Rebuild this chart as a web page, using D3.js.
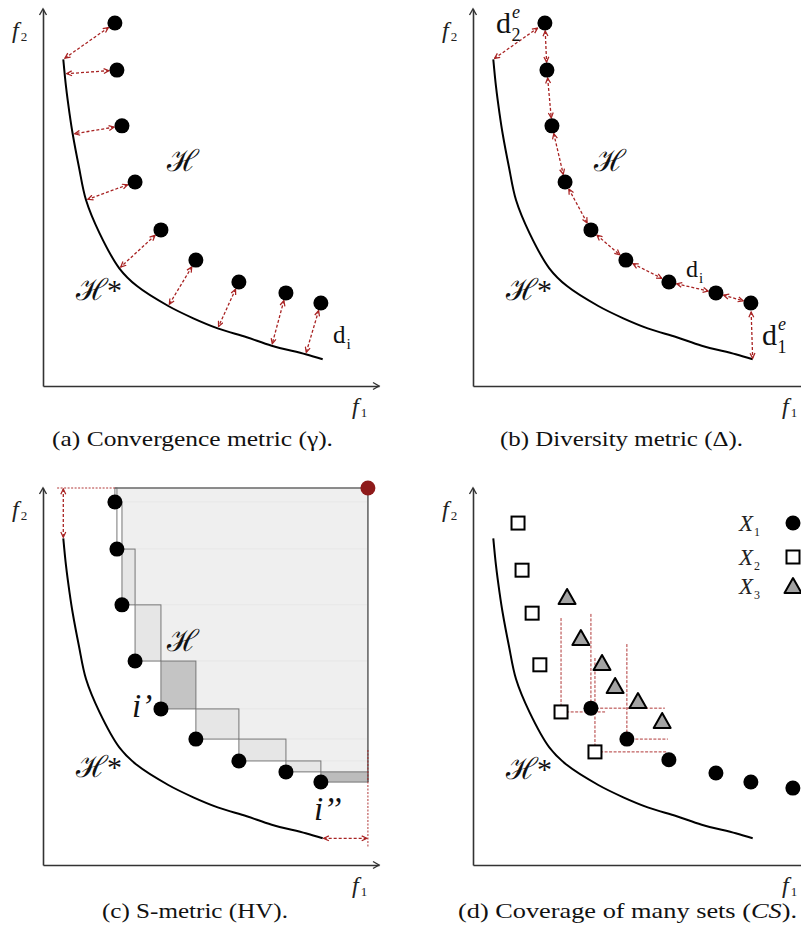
<!DOCTYPE html>
<html>
<head>
<meta charset="utf-8">
<script src="https://cdn.jsdelivr.net/npm/d3@7"></script>
<style>
  body { margin: 0; background: #fff; }
  svg { display: block; }
</style>
</head>
<body>
<svg id="fig" width="801" height="945"></svg>
<script>
// ---------- data (objective space, both axes 0..100) ----------
// true Pareto front H*
const frontF1 = [6.04, 6.85, 7.89, 8.84, 10.68, 12.8, 16.85, 22.71, 27.98, 37.29, 44.73, 52.0, 60.63, 68.07, 78.18, 83.24];
const frontF2 = [86.66, 79.39, 72.33, 66.84, 58.17, 49.34, 40.5, 31.22, 26.5, 21.22, 17.96, 15.3, 12.92, 10.69, 8.41, 7.08];

// approximation set H
const solF1 = [21.4, 22.0, 23.5, 27.4, 35.1, 45.5, 58.3, 72.3, 82.7];
const solF2 = [96.3, 83.8, 69.0, 54.1, 41.4, 33.4, 27.6, 24.7, 22.0];

// nearest front point for every solution (convergence distances d_i)
const footF1 = [6.04, 6.45, 8.84, 12.8, 22.71, 37.29, 52.0, 68.07, 78.18];
const footF2 = [86.66, 82.8, 66.84, 49.34, 31.22, 21.22, 15.3, 10.69, 8.41];

// hypervolume reference point and guide extents
const refPoint = [96.7, 100];
const guideTopF1 = [4.2];
const guideRightF2 = [30.5, 4.8];

// three sets compared by coverage
const set1F1 = [35.1, 45.8, 58.3, 72.3, 82.7, 95.2];
const set1F2 = [41.6, 33.4, 27.9, 24.4, 22.0, 20.4];
const set2F1 = [13.4, 14.6, 17.6, 19.9, 26.2, 36.3];
const set2F2 = [90.7, 78.2, 66.8, 53.1, 40.6, 30.0];
const set3F1 = [28.0, 32.1, 38.4, 42.3, 49.1, 56.3];
const set3F2 = [71.1, 60.2, 53.6, 47.5, 43.5, 38.2];

// dominated-region corners: anchor point, upper f2 bound, right f1 bound
const domF1 = [26.2, 35.1, 36.3, 45.8];
const domF2 = [40.6, 41.6, 30.0, 33.4];
const domTopF2 = [65.5, 66.6, 54.9, 58.6];
const domRightF1 = [39.3, 57.1, 57.7, 58.0];

const legendSubs = ["1", "2", "3"];
const captionTexts = [
  "(a) Convergence metric (\u03B3).",
  "(b) Diversity metric (\u0394).",
  "(c) S-metric (HV).",
  "(d) Coverage of many sets ("
];

// ---------- drawing ----------
const RED = "#a82222";
const SERIF = "'Liberation Serif', 'Times New Roman', serif";
const SCRIPT = "'DejaVu Serif', serif";
const svg = d3.select("#fig");
const defs = svg.append("defs");

defs.append("marker")
  .attr("id", "ah")
  .attr("viewBox", "0 0 10 10")
  .attr("refX", 9).attr("refY", 5)
  .attr("markerWidth", 6.5).attr("markerHeight", 6.5)
  .attr("markerUnits", "userSpaceOnUse")
  .attr("orient", "auto-start-reverse")
  .append("path")
  .attr("d", "M1,1.2 L9,5 L1,8.8")
  .attr("fill", "none")
  .attr("stroke", RED)
  .attr("stroke-width", 1.9);

const origins = [[43, 386], [473, 386], [43, 865], [473, 865]];
const panels = origins.map(([ox, oy]) => ({
  ox, oy,
  x: d3.scaleLinear().domain([0, 100]).range([ox, ox + 336]),
  y: d3.scaleLinear().domain([0, 100]).range([oy, oy - 377]),
  g: svg.append("g")
}));

const zip = (a, b) => a.map((v, i) => [v, b[i]]);
const front = zip(frontF1, frontF2);
const sols = zip(solF1, solF2);

function drawAxes(P) {
  const gx = P.g.append("g").attr("transform", `translate(0,${P.oy})`)
    .call(d3.axisBottom(P.x).tickValues([]).tickSizeOuter(0));
  const gy = P.g.append("g").attr("transform", `translate(${P.ox},0)`)
    .call(d3.axisLeft(P.y).tickValues([]).tickSizeOuter(0));
  [gx, gy].forEach(a => a.select(".domain").attr("stroke", "#333").attr("stroke-width", 1.6));
  const xe = P.x(100), yt = P.y(100);
  P.g.append("path")
    .attr("d", `M${xe - 6},${P.oy - 3.5}L${xe},${P.oy}L${xe - 6},${P.oy + 3.5}`)
    .attr("fill", "none").attr("stroke", "#333").attr("stroke-width", 1.4);
  P.g.append("path")
    .attr("d", `M${P.ox - 3.5},${yt + 6}L${P.ox},${yt}L${P.ox + 3.5},${yt + 6}`)
    .attr("fill", "none").attr("stroke", "#333").attr("stroke-width", 1.4);
  fLabel(P.g, P.ox - 31, P.oy - 348, "2");
  fLabel(P.g, P.x(100) - 27, P.oy + 28, "1");
}

function fLabel(g, x, y, sub) {
  const t = g.append("text").attr("x", x).attr("y", y)
    .attr("font-family", SERIF).attr("font-size", 24).attr("fill", "#222");
  t.append("tspan").attr("font-style", "italic").text("f");
  t.append("tspan").attr("font-size", 13).attr("dx", 2).attr("dy", 3).text(sub);
}

function drawFront(P) {
  P.g.append("path")
    .datum(front)
    .attr("d", d3.line().x(d => P.x(d[0])).y(d => P.y(d[1])).curve(d3.curveCatmullRom.alpha(0.5)))
    .attr("fill", "none").attr("stroke", "#000").attr("stroke-width", 2);
}

function dblArrow(g, x1, y1, x2, y2, s1, s2) {
  const dx = x2 - x1, dy = y2 - y1, L = Math.hypot(dx, dy), ux = dx / L, uy = dy / L;
  g.append("line")
    .attr("x1", x1 + ux * s1).attr("y1", y1 + uy * s1)
    .attr("x2", x2 - ux * s2).attr("y2", y2 - uy * s2)
    .attr("stroke", RED).attr("stroke-width", 1.3).attr("stroke-dasharray", "3,2")
    .attr("marker-start", "url(#ah)").attr("marker-end", "url(#ah)");
}

function dots(P, pts, fill = "#000") {
  P.g.append("g").selectAll("circle").data(pts).join("circle")
    .attr("cx", d => P.x(d[0])).attr("cy", d => P.y(d[1])).attr("r", 7.5).attr("fill", fill);
}

function scriptH(g, x, y, star) {
  const t = g.append("text").attr("x", x).attr("y", y)
    .attr("font-family", SCRIPT).attr("font-size", 30)
    .attr("fill", "#111");
  t.append("tspan").text("\u210B");
  if (star) t.append("tspan").attr("font-family", SERIF).attr("font-size", 30).attr("dx", -1).text("*");
}

function dLabel(g, x, y, size, sub, sup) {
  const t = g.append("text").attr("x", x).attr("y", y)
    .attr("font-family", SERIF).attr("font-size", size).attr("fill", "#111");
  t.append("tspan").text("d");
  if (sup) {
    t.append("tspan").attr("font-style", "italic").attr("font-size", size * 0.6)
      .attr("dx", 1).attr("dy", -size * 0.5).text(sup);
    t.append("tspan").attr("font-size", size * 0.6)
      .attr("dx", -size * 0.28).attr("dy", size * 0.75).text(sub);
  } else {
    t.append("tspan").attr("font-size", size * 0.62).attr("dx", 1).attr("dy", size * 0.25).text(sub);
  }
}

// ----- (a) convergence -----
{
  const P = panels[0];
  drawAxes(P);
  drawFront(P);
  sols.forEach((s, i) => {
    dblArrow(P.g, P.x(s[0]), P.y(s[1]), P.x(footF1[i]), P.y(footF2[i]), 8, 2);
  });
  dots(P, sols);
  scriptH(P.g, P.ox + 124, P.oy - 215, false);
  scriptH(P.g, P.ox + 33, P.oy - 86, true);
  dLabel(P.g, P.ox + 290, P.oy - 43, 25, "i");
}

// ----- (b) diversity -----
{
  const P = panels[1];
  drawAxes(P);
  drawFront(P);
  for (let i = 0; i < sols.length - 1; i++) {
    dblArrow(P.g, P.x(sols[i][0]), P.y(sols[i][1]), P.x(sols[i + 1][0]), P.y(sols[i + 1][1]), 8, 8);
  }
  const f0 = front[0], fN = front[front.length - 1], s0 = sols[0], sN = sols[sols.length - 1];
  dblArrow(P.g, P.x(f0[0]), P.y(f0[1]), P.x(s0[0]), P.y(s0[1]), 1.5, 9);
  dblArrow(P.g, P.x(sN[0]), P.y(sN[1]), P.x(fN[0]), P.y(fN[1]), 9, 1);
  dots(P, sols);
  scriptH(P.g, P.ox + 121, P.oy - 215, false);
  scriptH(P.g, P.ox + 33, P.oy - 86, true);
  dLabel(P.g, P.ox + 23, P.oy - 353, 30, "2", "e");
  dLabel(P.g, P.ox + 213, P.oy - 109, 24, "i");
  dLabel(P.g, P.ox + 289, P.oy - 41, 30, "1", "e");
}

// ----- (c) hypervolume -----
{
  const P = panels[2];
  drawAxes(P);
  const n = sols.length;
  const rx = P.x(refPoint[0]), ry = P.y(refPoint[1]);
  const xs = solF1.map(v => P.x(v)), ys = solF2.map(v => P.y(v));
  const cells = d3.range(n).map(i => ({
    i,
    x0: xs[i],
    x1: i < n - 1 ? xs[i + 1] : rx,
    yTop: i === 0 ? ry : ys[i - 1],
    yBot: ys[i]
  }));
  // dominated region, one band per solution
  P.g.append("g").selectAll("rect").data(cells).join("rect")
    .attr("x", d => d.x1).attr("y", d => d.yTop)
    .attr("width", d => rx - d.x1).attr("height", d => d.yBot - d.yTop)
    .attr("fill", "#efefef").attr("stroke", "#e7e7e7").attr("stroke-width", 0.8);
  // exclusive contribution of every solution
  const excl = i => i < 2 ? "#ffffff" : i === 4 ? "#c4c4c4" : i === 8 ? "#bcbcbc" : "#e6e6e6";
  P.g.append("g").selectAll("rect").data(cells).join("rect")
    .attr("x", d => d.x0).attr("y", d => d.yTop)
    .attr("width", d => d.x1 - d.x0).attr("height", d => d.yBot - d.yTop)
    .attr("fill", d => excl(d.i)).attr("stroke", "#777").attr("stroke-width", 1);
  P.g.append("path")
    .attr("d", `M${xs[0]},${ry}H${rx}V${ys[n - 1]}`)
    .attr("fill", "none").attr("stroke", "#6a6a6a").attr("stroke-width", 1.6);
  drawFront(P);
  // guides to the reference point
  P.g.append("line")
    .attr("x1", P.x(guideTopF1[0])).attr("x2", xs[0]).attr("y1", ry).attr("y2", ry)
    .attr("stroke", RED).attr("stroke-width", 0.9).attr("stroke-dasharray", "2,1.5");
  P.g.append("line")
    .attr("x1", rx).attr("x2", rx).attr("y1", P.y(guideRightF2[0])).attr("y2", P.y(guideRightF2[1]))
    .attr("stroke", RED).attr("stroke-width", 0.9).attr("stroke-dasharray", "2,1.5");
  const f0 = front[0], fN = front[front.length - 1];
  dblArrow(P.g, P.x(f0[0]), ry, P.x(f0[0]), P.y(f0[1]), 1, 1);
  dblArrow(P.g, P.x(fN[0]), P.y(fN[1]), rx, P.y(fN[1]), 1, 1);
  dots(P, sols);
  P.g.append("circle").attr("cx", rx).attr("cy", ry).attr("r", 7.5).attr("fill", "#8e1a1a");
  scriptH(P.g, P.ox + 124, P.oy - 214, false);
  scriptH(P.g, P.ox + 33, P.oy - 88, true);
  P.g.append("text").attr("x", P.ox + 89).attr("y", P.oy - 148)
    .attr("font-family", SERIF).attr("font-style", "italic").attr("font-size", 33).attr("fill", "#111")
    .text("i\u2019");
  P.g.append("text").attr("x", P.ox + 271).attr("y", P.oy - 45)
    .attr("font-family", SERIF).attr("font-style", "italic").attr("font-size", 33).attr("fill", "#111")
    .text("i\u2019\u2019");
}

// ----- (d) coverage of many sets -----
{
  const P = panels[3];
  drawAxes(P);
  drawFront(P);
  const dg = P.g.append("g").attr("fill", "none").attr("stroke", RED)
    .attr("stroke-width", 0.9).attr("stroke-dasharray", "3,1.5");
  domF1.forEach((v, i) => {
    const ax = P.x(v), ay = P.y(domF2[i]);
    dg.append("path").attr("d", `M${ax},${P.y(domTopF2[i])}V${ay}H${P.x(domRightF1[i])}`);
  });
  const sq = zip(set2F1, set2F2), tri = zip(set3F1, set3F2), cir = zip(set1F1, set1F2);
  const triPath = "M0,-8L8.5,7L-8.5,7Z";
  P.g.append("g").selectAll("rect").data(sq).join("rect")
    .attr("x", d => P.x(d[0]) - 6.5).attr("y", d => P.y(d[1]) - 6.5)
    .attr("width", 13).attr("height", 13)
    .attr("fill", "#fff").attr("stroke", "#000").attr("stroke-width", 2);
  P.g.append("g").selectAll("path").data(tri).join("path")
    .attr("d", triPath)
    .attr("transform", d => `translate(${P.x(d[0])},${P.y(d[1])})`)
    .attr("fill", "#a3a3a3").attr("stroke", "#000").attr("stroke-width", 2).attr("stroke-linejoin", "round");
  dots(P, cir);
  scriptH(P.g, P.ox + 33, P.oy - 86, true);

  // legend
  const lx = P.ox + 320, ly = [P.oy - 342, P.oy - 308, P.oy - 279];
  P.g.append("circle").attr("cx", lx).attr("cy", ly[0]).attr("r", 7.5).attr("fill", "#000");
  P.g.append("rect").attr("x", lx - 6.5).attr("y", ly[1] - 6.5).attr("width", 13).attr("height", 13)
    .attr("fill", "#fff").attr("stroke", "#000").attr("stroke-width", 2);
  P.g.append("path").attr("d", triPath).attr("transform", `translate(${lx},${ly[2]})`)
    .attr("fill", "#a3a3a3").attr("stroke", "#000").attr("stroke-width", 2).attr("stroke-linejoin", "round");
  legendSubs.forEach((s, i) => {
    const t = P.g.append("text").attr("x", P.ox + 266).attr("y", ly[i] + 8)
      .attr("font-family", SERIF).attr("font-size", 23).attr("fill", "#222");
    t.append("tspan").attr("font-style", "italic").text("X");
    t.append("tspan").attr("font-size", 12).attr("dx", 1).attr("dy", 5).text(s);
  });
}

// ----- captions -----
const capPos = [[52, 446, 281], [500, 446, 243], [102, 918, 186], [458, 918, 339]];
captionTexts.forEach((c, i) => {
  const [x, y, w] = capPos[i];
  const t = svg.append("text").attr("x", x).attr("y", y)
    .attr("font-family", SERIF).attr("font-size", 21).attr("fill", "#111")
    .attr("textLength", w).attr("lengthAdjust", "spacingAndGlyphs");
  t.append("tspan").text(c);
  if (i === 3) {
    t.append("tspan").attr("font-style", "italic").text("CS");
    t.append("tspan").text(").");
  }
});
</script>
</body>
</html>
